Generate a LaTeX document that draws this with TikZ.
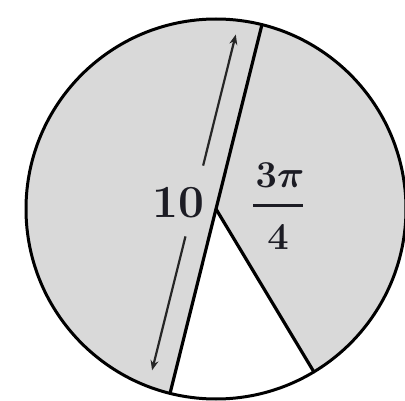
\RequirePackage{fix-cm}
\documentclass[tikz,border=0pt]{standalone}
\usepackage{amsmath,bm}
\usetikzlibrary{arrows.meta,calc}
\definecolor{sectorgray}{HTML}{D9D9D9}
\definecolor{inkdark}{HTML}{1C1C24}
\begin{document}
\begin{tikzpicture}[x=1pt,y=1pt,
  outline/.style={draw=black,line width=3pt},
  segline/.style={draw=black,line width=3.2pt,line cap=round},
  dimarrow/.style={draw=black!85,line width=2.2pt,-{Stealth[length=10pt,width=8pt]}},
  biglabel/.style={text=inkdark,inner sep=0pt,font=\fontsize{46}{52}\selectfont\bfseries},
  fraclabel/.style={text=inkdark,inner sep=0pt,font=\fontsize{38}{44}\selectfont\bfseries}]
\useasboundingbox (0,0) rectangle (405,400);
\coordinate (C) at (216,191);
\coordinate (T) at ($(C)+(76:190)$);
\coordinate (B) at ($(C)+(256:190)$);
\coordinate (R) at ($(C)+(301:190)$);
% gray region (all but the 45 degree sector)
\fill[sectorgray] (C) -- (R) arc[start angle=-59,end angle=256,radius=190] -- cycle;
\draw[outline] (C) circle[radius=190];
% diameter and radius
\draw[segline] (T) -- (B);
\draw[segline] (C) -- (R);
% dimension arrow parallel to diameter
\coordinate (atop) at ($(C)+(76:174)+(166:23)$);
\coordinate (abot) at ($(C)+(256:172)+(166:23)$);
\coordinate (a1) at ($(C)+(76:39)+(166:23)$);
\coordinate (a2) at ($(C)+(256:34)+(166:23)$);
\draw[dimarrow] (a1) -- (atop);
\draw[dimarrow] (a2) -- (abot);
\node[biglabel] (ten) at (178,197) {10};
% angle label 3pi/4
\node[fraclabel] (num) at (280,225) {$\bm{3\pi}$};
\node[fraclabel] (den) at (278,163) {$\bm{4}$};
\coordinate (fb1) at (253,195);
\coordinate (fb2) at (303,195);
\draw[draw=inkdark,line width=3pt] (fb1) -- (fb2);
\end{tikzpicture}
\end{document}
